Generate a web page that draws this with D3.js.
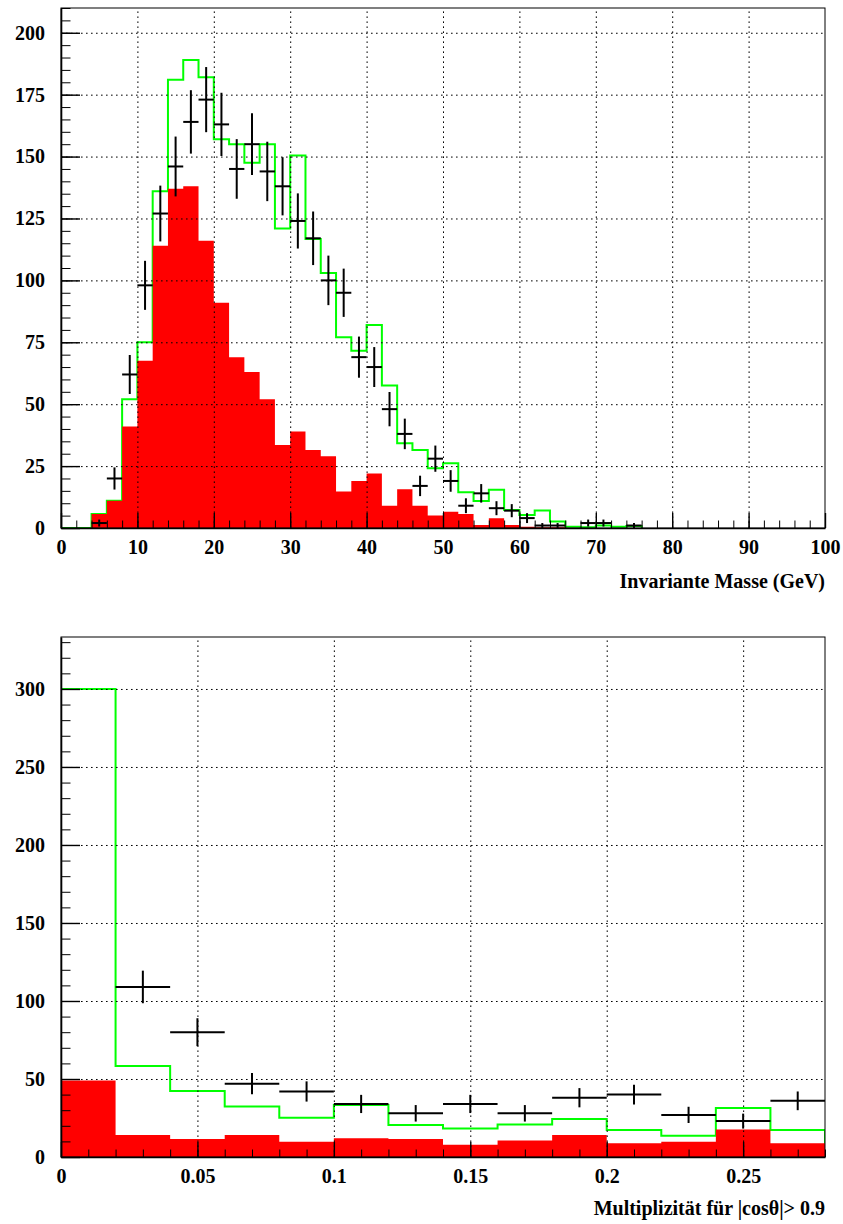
<!DOCTYPE html>
<html>
<head>
<meta charset="utf-8">
<script src="https://cdn.jsdelivr.net/npm/d3@7"></script>
<style>
  html, body { margin: 0; padding: 0; background: #fff; }
  svg { display: block; }
  .lbl text, text.title {
    font-family: "Liberation Serif", "Times New Roman", Times, "DejaVu Serif", serif;
    font-weight: bold;
    font-size: 20px;
    fill: #000;
  }
</style>
</head>
<body>
<svg id="chart" width="843" height="1224"></svg>
<script>
// ---- Invariant mass, 2 GeV bins (lower bin edges) ----
const massBinLow = [0, 2, 4, 6, 8, 10, 12, 14, 16, 18, 20, 22, 24, 26, 28, 30, 32, 34, 36,
                    38, 40, 42, 44, 46, 48, 50, 52, 54, 56, 58, 60, 62, 64, 66, 68, 70, 72, 74];
// measured events (null = empty bin)
const massData = [null, null, 2, 20, 62, 98, 127, 146, 164, 173, 163, 145, 155, 144, 138, 124, 117, 100, 95,
                  69, 65, 48, 38, 17, 28, 19, 9, 14, 8, 7, 4, 1, 1, null, 2, 2, null, 1];
// total simulation (green outline)
const massMC = [0, 0, 5.7, 11, 52, 75, 136, 181, 189, 182, 157, 155, 147.5, 155, 121, 150.4, 116.7, 103, 77,
                71.6, 82, 57.5, 34.2, 31.5, 24.1, 26.1, 14.4, 10.9, 15.4, 7.3, 5.3, 7.1, 2.6, 0.5, 0.3, 1, 0.5, 0.8];
// background share (red fill)
const massBkg = [0, 0, 5.7, 11, 41, 67.5, 114, 137, 138, 116, 91, 69, 63, 52, 33.5, 39, 31.5, 29, 14.7,
                 19, 22, 9, 15.6, 9, 5, 6.6, 5.7, 1.2, 3.9, 1.2, 0.5, 0.3, 0.3, 0, 0, 0, 0, 0];
const massTicks = [0, 10, 20, 30, 40, 50, 60, 70, 80, 90, 100];
const massCountTicks = [0, 25, 50, 75, 100, 125, 150, 175, 200];

// ---- Multiplicity for |cos theta| > 0.9, 0.02 bins ----
const multBinLow = [0, 0.02, 0.04, 0.06, 0.08, 0.10, 0.12, 0.14, 0.16, 0.18, 0.20, 0.22, 0.24, 0.26];
const multData = [null, 109, 80, 47, 42, 34, 28, 34, 28, 38, 40, 27, 23, 36];
const multMC = [300, 58.3, 42.3, 32.3, 25.2, 33.3, 20.5, 18.2, 20.9, 24.4, 17.3, 13.7, 31.4, 17.3];
const multBkg = [49, 14.1, 11.5, 14.1, 9.8, 12, 11.5, 7.9, 10.5, 14.1, 8.8, 9.8, 17.7, 8.8];
const multTicks = [0, 0.05, 0.1, 0.15, 0.2, 0.25];
const multTickLabels = ["0", "0.05", "0.1", "0.15", "0.2", "0.25"];
const multCountTicks = [0, 50, 100, 150, 200, 250, 300];

const svg = d3.select("#chart");

function drawPanel(o) {
  const x = d3.scaleLinear().domain(o.xDomain).range([o.left, o.right]);
  const y = d3.scaleLinear().domain(o.yDomain).range([o.bottom, o.top]);
  const W = o.right - o.left, H = o.bottom - o.top;

  const clipId = o.id + "-clip";
  svg.append("clipPath").attr("id", clipId)
    .append("rect").attr("x", o.left).attr("y", o.top).attr("width", W).attr("height", H);

  const plot = svg.append("g").attr("clip-path", `url(#${clipId})`);

  // step outline points in data space
  const steps = vals => {
    const pts = [[o.bins[0], 0]];
    o.bins.forEach((lo, i) => { pts.push([lo, vals[i]], [lo + o.binWidth, vals[i]]); });
    pts.push([o.bins[o.bins.length - 1] + o.binWidth, 0]);
    return pts;
  };
  const line = d3.line().x(d => x(d[0])).y(d => y(d[1]));
  const area = d3.area().x(d => x(d[0])).y0(y(0)).y1(d => y(d[1]));

  // simulation outline
  plot.append("path").attr("d", line(steps(o.mc)))
    .attr("fill", "none").attr("stroke", "#00ff00").attr("stroke-width", 2);
  // background fill
  plot.append("path").attr("d", area(steps(o.bkg))).attr("fill", "#ff0000");

  // dotted grid at the major ticks
  const gridX = o.xTicks.filter(v => v > o.xDomain[0] && v < o.xDomain[1]);
  const gridY = o.yTicks.filter(v => v > o.yDomain[0] && v < o.yDomain[1]);
  const gx = svg.append("g").attr("transform", `translate(0,${o.bottom})`)
    .call(d3.axisBottom(x).tickValues(gridX).tickSize(-H).tickFormat(""));
  const gy = svg.append("g").attr("transform", `translate(${o.left},0)`)
    .call(d3.axisLeft(y).tickValues(gridY).tickSize(-W).tickFormat(""));
  [gx, gy].forEach(s => {
    s.select(".domain").remove();
    s.selectAll("line").attr("stroke", "#000").attr("stroke-width", 1).attr("stroke-dasharray", "1.6,3.4");
  });

  // data points with statistical errors
  const pts = o.bins.map((lo, i) => ({ lo, v: o.data[i] })).filter(d => d.v !== null);
  const cross = plot.append("g").attr("stroke", "#000").attr("stroke-width", 2);
  cross.selectAll("line.h").data(pts).join("line").attr("class", "h")
    .attr("x1", d => x(d.lo)).attr("x2", d => x(d.lo + o.binWidth))
    .attr("y1", d => y(d.v)).attr("y2", d => y(d.v));
  cross.selectAll("line.v").data(pts).join("line").attr("class", "v")
    .attr("x1", d => x(d.lo + o.binWidth / 2)).attr("x2", d => x(d.lo + o.binWidth / 2))
    .attr("y1", d => y(d.v - Math.sqrt(d.v))).attr("y2", d => y(d.v + Math.sqrt(d.v)));

  // frame
  svg.append("rect").attr("x", o.left).attr("y", o.top).attr("width", W).attr("height", H)
    .attr("fill", "none").attr("stroke", "#000").attr("stroke-width", 1);

  // x axis: major ticks with labels, minor ticks
  const ax = svg.append("g").attr("class", "lbl").attr("transform", `translate(0,${o.bottom})`)
    .call(d3.axisBottom(x).tickValues(o.xTicks).tickSizeInner(-15).tickSizeOuter(0)
      .tickPadding(12).tickFormat((d, i) => o.xLabels[i]));
  svg.append("g").attr("transform", `translate(0,${o.bottom})`)
    .call(d3.axisBottom(x).tickValues(o.xMinor).tickSizeInner(-7.5).tickSizeOuter(0).tickFormat(""))
    .select(".domain").remove();

  // y axis
  const ay = svg.append("g").attr("class", "lbl").attr("transform", `translate(${o.left},0)`)
    .call(d3.axisLeft(y).tickValues(o.yTicks).tickSizeInner(-19).tickSizeOuter(0)
      .tickPadding(16).tickFormat(d => d));
  svg.append("g").attr("transform", `translate(${o.left},0)`)
    .call(d3.axisLeft(y).tickValues(o.yMinor).tickSizeInner(-9.5).tickSizeOuter(0).tickFormat(""))
    .select(".domain").remove();

  svg.selectAll(".domain").attr("stroke", "#000").attr("stroke-width", 1.6);
  svg.selectAll(".tick line").attr("stroke", "#000");
  [ax, ay].forEach(s => s.selectAll(".tick line").attr("stroke-width", 1.4));

  // axis title
  svg.append("text").attr("class", "title")
    .attr("x", o.right).attr("y", o.titleY).attr("text-anchor", "end")
    .text(o.title);
}

drawPanel({
  id: "mass",
  left: 61, right: 825, top: 8, bottom: 528,
  xDomain: [0, 100], yDomain: [0, 210],
  bins: massBinLow, binWidth: 2,
  data: massData, mc: massMC, bkg: massBkg,
  xTicks: massTicks, xLabels: massTicks.map(String),
  xMinor: d3.range(0, 101, 2),
  yTicks: massCountTicks, yMinor: d3.range(0, 211, 5),
  title: "Invariante Masse (GeV)", titleY: 588
});

drawPanel({
  id: "mult",
  left: 61, right: 825, top: 637, bottom: 1157,
  xDomain: [0, 0.28], yDomain: [0, 333.3],
  bins: multBinLow, binWidth: 0.02,
  data: multData, mc: multMC, bkg: multBkg,
  xTicks: multTicks, xLabels: multTickLabels,
  xMinor: d3.range(0, 29).map(i => i / 100),
  yTicks: multCountTicks, yMinor: d3.range(0, 334, 10),
  title: "Multiplizität für |cosθ|> 0.9", titleY: 1215
});
</script>
</body>
</html>
